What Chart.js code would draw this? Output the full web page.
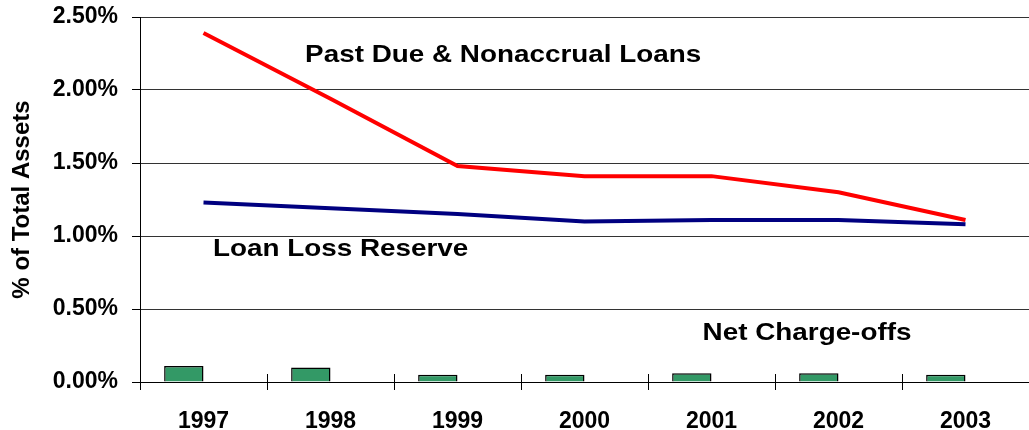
<!DOCTYPE html>
<html>
<head>
<meta charset="utf-8">
<script src="https://cdn.jsdelivr.net/npm/chart.js@4"></script>
<style>
html,body{margin:0;padding:0;background:#fff;}
#wrap{width:1029px;height:430px;}
</style>
</head>
<body>
<div id="wrap"><canvas id="c" width="1029" height="430"></canvas></div>
<script>
const categories = ['1997','1998','1999','2000','2001','2002','2003'];
const pastDueNonaccrual = [2.39, 1.94, 1.48, 1.41, 1.41, 1.30, 1.11];
const loanLossReserve = [1.23, 1.19, 1.15, 1.10, 1.11, 1.11, 1.08];
const netChargeOffs = [0.11, 0.10, 0.05, 0.05, 0.06, 0.06, 0.05];
const yTickValues = [0, 0.5, 1.0, 1.5, 2.0, 2.5];
const seriesLabels = ['Past Due & Nonaccrual Loans', 'Loan Loss Reserve', 'Net Charge-offs'];
// label anchors in data coordinates (category index, value)
const labelAnchorIndex = [0.8, 0.075, 3.93];
const labelAnchorValue = [2.24, 0.91, 0.33];

const FONT = "'Liberation Sans', Arial, sans-serif";

const annotationPlugin = {
  id: 'annot',
  afterDatasetsDraw(chart) {
    const ctx = chart.ctx;
    const xs = chart.scales.x, ys = chart.scales.y;
    ctx.save();
    ctx.fillStyle = '#000';
    ctx.font = 'bold 24px ' + FONT;
    ctx.textBaseline = 'middle';
    ctx.textAlign = 'left';
    seriesLabels.forEach((t, i) => {
      const x = xs.getPixelForValue(labelAnchorIndex[i]);
      const y = ys.getPixelForValue(labelAnchorValue[i]);
      ctx.save();
      ctx.translate(x, y);
      ctx.scale(1.16, 1);
      ctx.fillText(t, 0, 0);
      ctx.restore();
    });
    ctx.restore();
  },
  afterDraw(chart) {
    // category separator tick marks crossing the x axis
    const ctx = chart.ctx;
    const a = chart.chartArea;
    const n = categories.length;
    const step = (a.right - a.left) / n;
    ctx.save();
    ctx.strokeStyle = '#000';
    ctx.lineWidth = 1;
    ctx.beginPath();
    for (let i = 0; i < n; i++) {
      const x = Math.round(a.left + i * step) + 0.5;
      ctx.moveTo(x, a.bottom - 8);
      ctx.lineTo(x, a.bottom + 8);
    }
    ctx.stroke();
    ctx.restore();
  }
};

new Chart(document.getElementById('c'), {
  type: 'bar',
  data: {
    labels: categories,
    datasets: [
      {
        type: 'line', label: seriesLabels[0], data: pastDueNonaccrual,
        borderColor: '#FF0000', borderWidth: 4, pointRadius: 0, tension: 0, fill: false, order: 0
      },
      {
        type: 'line', label: seriesLabels[1], data: loanLossReserve,
        borderColor: '#000080', borderWidth: 4, pointRadius: 0, tension: 0, fill: false, order: 1
      },
      {
        type: 'bar', label: seriesLabels[2], data: netChargeOffs,
        backgroundColor: '#339966', borderColor: '#000', borderWidth: 1.5,
        categoryPercentage: 0.62, barPercentage: 1.0, order: 2
      },
      {
        type: 'bar', label: '', data: categories.map(() => null),
        backgroundColor: 'rgba(0,0,0,0)', borderWidth: 0,
        categoryPercentage: 0.62, barPercentage: 1.0, order: 3
      }
    ]
  },
  options: {
    responsive: false,
    animation: false,
    events: [],
    layout: { padding: { top: 17, right: 0, left: 0, bottom: 0 } },
    plugins: { legend: { display: false }, tooltip: { enabled: false } },
    scales: {
      x: {
        offset: true,
        grid: { display: false, offset: true },
        border: { display: true, color: '#000', width: 1 },
        ticks: { color: '#000', font: { family: FONT, size: 23, weight: 'bold' }, padding: 18, maxRotation: 0 },
        afterFit(s) { s.height = 48; s.paddingLeft = 0; s.paddingRight = 0; }
      },
      y: {
        min: 0, max: 2.5,
        afterBuildTicks(s) { s.ticks = yTickValues.map(v => ({ value: v })); },
        grid: { color: '#333', lineWidth: 1, drawTicks: true, tickLength: 8, tickColor: '#000' },
        border: { display: true, color: '#000', width: 1 },
        ticks: {
          color: '#000', font: { family: FONT, size: 23, weight: 'bold' }, padding: 14,
          callback: v => v.toFixed(2) + '%'
        },
        title: {
          display: true, text: '% of Total Assets', color: '#000',
          font: { family: FONT, size: 24, weight: 'bold' }, padding: { top: 8, bottom: 0 }
        },
        afterFit(s) { s.width = 140; s.paddingTop = 0; s.paddingBottom = 0; }
      }
    }
  },
  plugins: [annotationPlugin]
});
</script>
</body>
</html>
